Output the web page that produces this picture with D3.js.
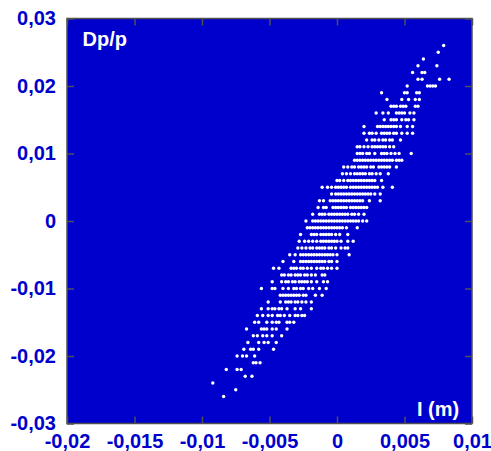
<!DOCTYPE html>
<html lang="en">
<head>
    <meta charset="UTF-8">
    <title>Dp/p vs l</title>
    <style>
        body {
            margin: 0;
            background-color: #ffffff;
        }

        svg text {
            font-family: Arial, "Liberation Sans", sans-serif;
            font-weight: bold;
        }

        .axis text {
            fill: #0000cc;
            font-size: 20px;
        }

        .axis line {
            stroke: #505050;
            stroke-width: 1.5;
        }

        .axis path {
            display: none;
        }

        text.label {
            fill: #ffffff;
            font-size: 20px;
        }
    </style>
</head>
<body>
<svg width="491" height="451"></svg>

<script src="https://cdnjs.cloudflare.com/ajax/libs/d3/7.8.5/d3.min.js"></script>
<script>
    // axis ticks
    const xTickValues = [-0.02, -0.015, -0.01, -0.005, 0, 0.005, 0.01];
    const xTickLabels = ["-0,02", "-0,015", "-0,01", "-0,005", "0", "0,005", "0,01"];
    const yTickValues = [0.03, 0.02, 0.01, 0, -0.01, -0.02, -0.03];
    const yTickLabels = ["0,03", "0,02", "0,01", "0", "-0,01", "-0,02", "-0,03"];

    // Dp/p rows (the tracking output is binned by 0.001)
    const dpValues = [
        0.026, 0.025, 0.024, 0.023, 0.022, 0.021, 0.020, 0.019, 0.018, 0.017, 0.016, 0.015, 0.014,
        0.013, 0.012, 0.011, 0.010, 0.009, 0.008, 0.007, 0.006, 0.005, 0.004, 0.003, 0.002, 0.001,
        0.000, -0.001, -0.002, -0.003, -0.004, -0.005, -0.006, -0.007, -0.008, -0.009, -0.010,
        -0.011, -0.012, -0.013, -0.014, -0.015, -0.016, -0.017, -0.018, -0.019, -0.020, -0.021,
        -0.022, -0.023, -0.024, -0.025, -0.026
    ];

    // l positions of the particles in each row, in mm
    const lValuesMm = [
        [7.9],
        [7.5],
        [6.4],
        [6.0, 7.4],
        [5.6, 6.3, 6.5],
        [6.0, 6.3, 7.6, 8.3],
        [5.2, 6.7, 6.9, 7.1, 7.3],
        [3.3, 5.0, 5.2, 5.9, 6.1],
        [3.7, 4.8, 5.3, 5.8, 6.1],
        [4.0, 4.2, 4.4, 4.7, 4.9, 5.1, 5.8, 6.0],
        [2.9, 3.4, 3.8, 4.4, 4.6, 4.8, 5.0, 5.4, 5.7],
        [3.5, 4.0, 4.2, 4.4, 4.8, 5.1, 5.3, 5.7],
        [2.0, 3.0, 3.2, 3.4, 3.6, 3.8, 4.0, 4.2, 4.4, 4.7, 5.2, 5.6],
        [2.0, 2.4, 2.6, 2.9, 3.3, 3.5, 3.7, 3.9, 4.2, 4.4, 4.8, 5.2, 5.6],
        [2.2, 2.6, 2.8, 3.1, 3.4, 3.6, 3.9, 4.1, 4.7],
        [1.5, 1.7, 2.0, 2.3, 2.6, 2.8, 3.0, 3.2, 3.4, 3.6, 3.9, 4.2],
        [1.5, 1.7, 1.9, 2.2, 2.4, 2.8, 3.3, 3.5, 3.7, 4.0, 4.3, 4.6, 5.5],
        [1.3, 1.5, 1.7, 1.9, 2.1, 2.3, 2.5, 2.7, 2.9, 3.1, 3.3, 3.5, 3.7, 3.9, 4.1, 4.4, 4.6, 4.8],
        [0.5, 0.8, 1.1, 1.3, 1.6, 1.8, 2.0, 2.2, 2.5, 2.7, 3.1, 3.3, 3.5, 3.7, 3.9, 4.4],
        [0.4, 0.7, 1.0, 1.3, 1.5, 1.7, 1.9, 2.1, 2.4, 2.6, 2.9, 3.2, 3.8],
        [0.0, 0.2, 0.5, 0.8, 1.0, 1.2, 1.4, 1.6, 1.8, 2.0, 2.2, 2.4, 2.6, 2.8, 3.3],
        [-1.1, -0.7, -0.4, -0.1, 0.1, 0.3, 0.5, 0.7, 1.0, 1.2, 1.4, 1.6, 1.8, 2.0, 2.2, 2.4, 2.6, 2.8, 3.0, 3.4, 4.1],
        [-0.4, -0.1, 0.1, 0.3, 0.5, 0.7, 0.9, 1.1, 1.3, 1.5, 1.7, 1.9, 2.1, 2.3, 2.5, 2.8, 3.2],
        [-1.3, -1.0, -0.5, -0.3, -0.1, 0.1, 0.3, 0.5, 0.7, 0.9, 1.1, 1.3, 1.5, 1.7, 1.9, 2.4, 3.2],
        [-1.4, -1.0, -0.8, -0.3, -0.1, 0.1, 0.3, 0.5, 0.7, 1.0, 1.2, 1.4, 1.6, 1.8, 2.0, 2.2],
        [-1.8, -1.3, -1.1, -0.9, -0.6, -0.4, -0.2, 0.0, 0.2, 0.4, 0.6, 0.8, 1.1, 1.3, 1.6, 2.0],
        [-2.3, -1.8, -1.6, -1.4, -1.2, -1.0, -0.8, -0.6, -0.4, -0.2, 0.0, 0.2, 0.4, 0.6, 0.8, 1.0, 1.2, 1.4, 1.6, 1.9, 2.2],
        [-2.2, -2.0, -1.8, -1.6, -1.4, -1.2, -1.0, -0.8, -0.6, -0.4, -0.2, 0.0, 0.2, 0.4, 0.7, 1.5],
        [-2.7, -1.9, -1.7, -1.5, -1.2, -1.0, -0.8, -0.6, -0.4, -0.1, 0.2, 0.8],
        [-2.8, -2.4, -2.1, -1.8, -1.5, -1.2, -1.0, -0.8, -0.6, -0.4, -0.2, 0.0, 0.3, 0.8, 1.2],
        [-2.9, -2.6, -2.3, -2.0, -1.8, -1.5, -1.3, -1.1, -0.9, -0.6, -0.4, -0.1, 0.3, 0.6, 0.8],
        [-3.5, -3.1, -2.7, -2.5, -2.3, -2.1, -1.9, -1.7, -1.5, -1.3, -1.1, -0.9, -0.7, -0.5, -0.3, 0.0, 0.9],
        [-4.0, -3.2, -2.7, -2.5, -2.3, -2.1, -1.9, -1.7, -1.5, -1.3, -1.1, -0.9, -0.6, -0.4, 0.0],
        [-4.7, -4.3, -3.4, -3.2, -3.0, -2.7, -2.5, -2.2, -1.9, -1.5, -1.2, -1.0, -0.7, -0.4, 0.0],
        [-4.1, -3.9, -3.6, -3.4, -3.1, -2.9, -2.7, -2.4, -2.2, -1.9, -1.6, -1.1, -0.9],
        [-4.8, -4.1, -3.8, -3.6, -3.3, -3.1, -2.8, -2.6, -2.4, -2.2, -1.9, -1.5, -1.0, -0.7],
        [-5.6, -4.8, -4.6, -4.0, -3.6, -3.2, -3.0, -2.7, -2.5, -2.1, -1.8, -1.3, -0.8],
        [-4.2, -4.0, -3.8, -3.6, -3.4, -3.2, -3.0, -2.8, -2.5, -2.3, -1.6, -1.1],
        [-5.1, -4.2, -3.8, -3.6, -3.4, -3.1, -2.9, -2.6, -2.3, -1.9],
        [-5.6, -5.1, -4.8, -4.6, -4.3, -4.1, -3.7, -3.1, -2.7, -1.9],
        [-5.9, -5.5, -5.1, -4.8, -4.4, -4.2, -3.9, -3.5, -3.1, -2.9, -2.6, -2.4],
        [-6.1, -5.8, -5.2, -4.8, -4.5, -4.3, -3.7, -3.5, -3.2],
        [-6.7, -5.6, -5.4, -5.2, -4.8, -4.5, -3.7],
        [-6.2, -5.9, -5.5, -5.2, -4.8, -4.1],
        [-6.6, -5.8, -5.4, -5.1, -4.5],
        [-6.9, -6.4, -6.2, -5.8, -4.7],
        [-7.4, -7.0, -6.7, -6.1],
        [-6.2, -6.0, -5.7],
        [-8.2, -7.4, -7.1],
        [-6.8, -6.3],
        [-9.2],
        [-7.5],
        [-8.4]
    ];

    const points = [];
    dpValues.forEach((dp, i) => {
        lValuesMm[i].forEach(l => points.push({l: l / 1000, dp: dp}));
    });

    // layout
    const width = 491, height = 451;
    const margin = {top: 18.5, right: 19, bottom: 27.5, left: 67};

    const x = d3.scaleLinear().domain([-0.02, 0.01]).range([margin.left, width - margin.right]);
    const y = d3.scaleLinear().domain([-0.03, 0.03]).range([height - margin.bottom, margin.top]);

    const svg = d3.select("svg");

    // plot background and frame
    svg.append("rect")
        .attr("x", x(-0.02))
        .attr("y", y(0.03))
        .attr("width", x(0.01) - x(-0.02))
        .attr("height", y(-0.03) - y(0.03))
        .attr("fill", "#0000cc")
        .attr("stroke", "#505050")
        .attr("stroke-width", 1.5);

    // particles
    svg.append("g")
        .selectAll("circle")
        .data(points)
        .enter().append("circle")
        .attr("cx", d => x(d.l))
        .attr("cy", d => y(d.dp))
        .attr("r", 1.7)
        .attr("fill", "#ffffff");

    // axes, ticks pointing inwards on all four sides
    svg.append("g")
        .attr("class", "axis")
        .attr("transform", `translate(0,${y(-0.03)})`)
        .call(d3.axisBottom(x).tickValues(xTickValues).tickSizeInner(-7).tickSizeOuter(0)
            .tickPadding(10).tickFormat((d, i) => xTickLabels[i]));

    svg.append("g")
        .attr("class", "axis")
        .attr("transform", `translate(${x(-0.02)},0)`)
        .call(d3.axisLeft(y).tickValues(yTickValues).tickSizeInner(-7).tickSizeOuter(0)
            .tickPadding(11).tickFormat((d, i) => yTickLabels[i]));

    svg.append("g")
        .attr("class", "axis")
        .attr("transform", `translate(0,${y(0.03)})`)
        .call(d3.axisTop(x).tickValues(xTickValues).tickSizeInner(-7).tickSizeOuter(0).tickFormat(""));

    svg.append("g")
        .attr("class", "axis")
        .attr("transform", `translate(${x(0.01)},0)`)
        .call(d3.axisRight(y).tickValues(yTickValues).tickSizeInner(-7).tickSizeOuter(0).tickFormat(""));

    // axis names inside the plot
    svg.append("text")
        .attr("class", "label")
        .attr("x", 82.5)
        .attr("y", 46)
        .text("Dp/p");

    svg.append("text")
        .attr("class", "label")
        .attr("x", 417)
        .attr("y", 416)
        .text("I (m)");
</script>
</body>
</html>
